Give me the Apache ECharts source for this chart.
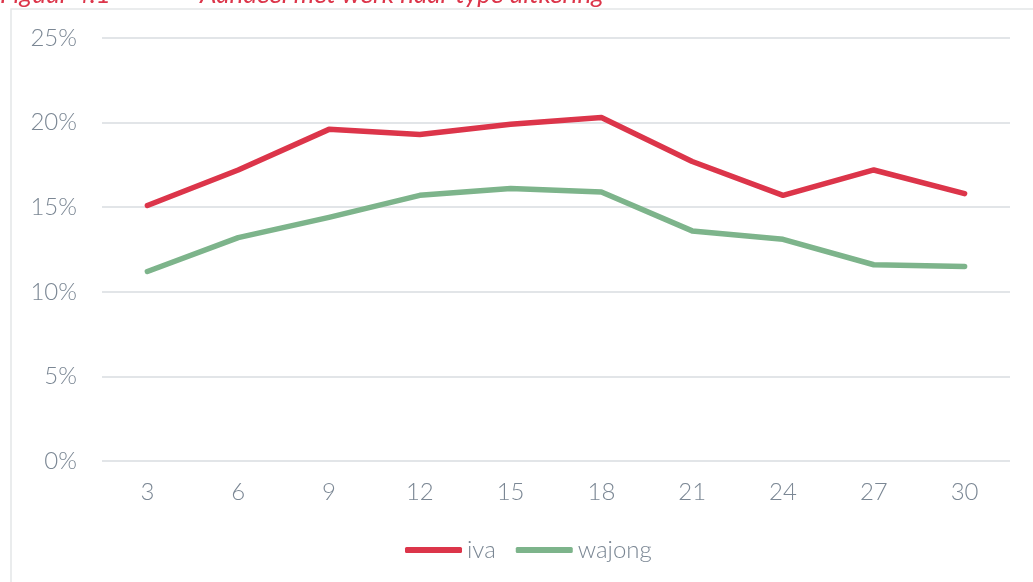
<!DOCTYPE html>
<html>
<head>
<meta charset="utf-8">
<script src="https://cdn.jsdelivr.net/npm/echarts@6/dist/echarts.min.js"></script>
<style>
html,body{margin:0;padding:0;background:#fff;}
#chart{width:1033px;height:582px;}
</style>
</head>
<body>
<div id="chart"></div>
<script>
var maanden = ['3', '6', '9', '12', '15', '18', '21', '24', '27', '30'];
var iva = [15.1, 17.2, 19.6, 19.3, 19.9, 20.3, 17.7, 15.7, 17.2, 15.8];
var wajong = [11.2, 13.2, 14.4, 15.7, 16.1, 15.9, 13.6, 13.1, 11.6, 11.5];

var grijs = '#7b8794';
var rood = '#dc354a';
var groen = '#7db48b';

var myChart = echarts.init(document.getElementById('chart'));

var option = {
    backgroundColor: '#fff',
    textStyle: {fontFamily: 'Lato', fontWeight: 300, color: grijs},
    animation: false,
    graphic: [
        {
            type: 'rect',
            shape: {x: 11, y: 9, width: 1040, height: 600},
            style: {fill: 'none', stroke: '#e4e6e8', lineWidth: 1.5},
            silent: true
        },
        {
            type: 'text',
            x: 0, y: 8,
            style: {text: 'Figuur 4.1', fill: rood, font: 'italic 400 26px Lato', verticalAlign: 'bottom'}
        },
        {
            type: 'text',
            x: 200, y: 8,
            style: {text: 'Aandeel met werk naar type uitkering', fill: rood, font: 'italic 400 26px Lato', verticalAlign: 'bottom'}
        }
    ],
    grid: {
        left: 102,
        right: 23,
        top: 38,
        bottom: 121
    },
    legend: {
        bottom: 15,
        left: 400,
        itemWidth: 57,
        itemHeight: 6,
        itemGap: 20,
        textStyle: {color: grijs, fontSize: 24, fontWeight: 300, padding: [0, 0, 0, 0]},
        data: [
            {name: 'iva', icon: 'roundRect'},
            {name: 'wajong', icon: 'roundRect'}
        ]
    },
    xAxis: {
        type: 'category',
        data: maanden,
        boundaryGap: true,
        axisLine: {show: false},
        axisTick: {show: false},
        axisLabel: {color: grijs, fontSize: 24, fontWeight: 300, margin: 19}
    },
    yAxis: {
        type: 'value',
        min: 0,
        max: 25,
        interval: 5,
        axisLine: {show: false},
        axisTick: {show: false},
        axisLabel: {color: grijs, fontSize: 24, fontWeight: 300, margin: 25, formatter: '{value}%'},
        splitLine: {lineStyle: {color: '#e2e5e8', width: 2}}
    },
    series: [
        {
            name: 'iva',
            type: 'line',
            data: iva,
            symbol: 'none',
            itemStyle: {color: rood},
            lineStyle: {color: rood, width: 5.5, cap: 'round', join: 'round'}
        },
        {
            name: 'wajong',
            type: 'line',
            data: wajong,
            symbol: 'none',
            itemStyle: {color: groen},
            lineStyle: {color: groen, width: 5.5, cap: 'round', join: 'round'}
        }
    ]
};

myChart.setOption(option, true);
</script>
</body>
</html>
